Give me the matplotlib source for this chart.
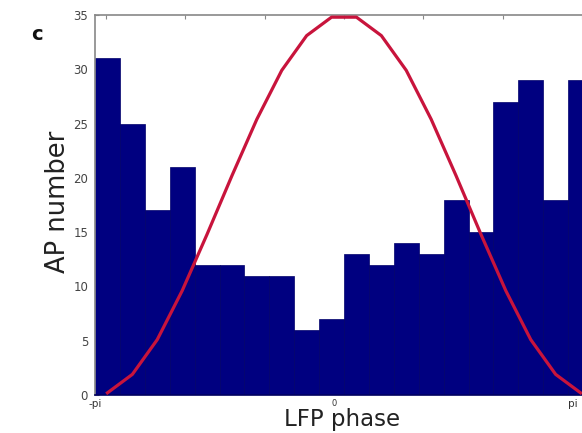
import numpy as np
import matplotlib
matplotlib.use("Agg")
import matplotlib.pyplot as plt

# --- data ---
n_bins = 20
counts = [31, 25, 17, 21, 12, 12, 11, 11, 6, 7, 13, 12, 14, 13, 18, 15, 27, 29, 18, 29]
curve = [0.2, 1.9, 5.1, 9.6, 14.8, 20.2, 25.4, 29.9, 33.1, 34.8,
         34.8, 33.1, 29.9, 25.4, 20.2, 14.8, 9.6, 5.1, 1.9, 0.2]
yticks = [0, 5, 10, 15, 20, 25, 30, 35]
top_ticks = [-3, -2, -1, 0, 1, 2, 3]
xtick_pos = [-np.pi, -0.13, 2.89]
xtick_labels = ["-pi", "0", "pi"]

edges = np.linspace(-np.pi, np.pi, n_bins + 1)
centers = (edges[:-1] + edges[1:]) / 2
width = edges[1] - edges[0]

fig = plt.figure(figsize=(5.82, 4.33), dpi=100)
ax = fig.add_axes([95/582, 38/433, 498/582, 380/433])

ax.bar(centers, counts, width=width, color="#000080", edgecolor="#00006a",
       linewidth=0.5, align="center", zorder=2)
ax.plot(centers, curve, color="#C8143C", lw=2.3, zorder=3, clip_on=False,
        solid_joinstyle="round")

ax.set_xlim(-np.pi, np.pi)
ax.set_ylim(0, 35)
ax.set_yticks(yticks)
ax.set_yticklabels([str(v) for v in yticks], fontsize=8.5, color="#444444")
ax.tick_params(axis="y", direction="in", length=3, color="#888888", pad=5)

ax.set_xticks(xtick_pos)
ax.set_xticklabels(xtick_labels, fontsize=7, color="#333333")
ax.tick_params(axis="x", length=0, pad=3)
for lab, fs in zip(ax.get_xticklabels(), [7.5, 6, 7.5]):
    lab.set_fontsize(fs)

sec = ax.secondary_xaxis("top")
sec.set_xticks(top_ticks)
sec.set_xticklabels([""] * len(top_ticks))
sec.tick_params(direction="in", length=3, color="#888888")
sec.spines["top"].set_visible(False)

for s in ax.spines.values():
    s.set_color("#888888")
    s.set_linewidth(1.2)
ax.spines["bottom"].set_color("#000060")

fig.text(65/582, 1 - 202/433, "AP number", rotation=90, fontsize=18.5,
         rotation_mode="anchor", ha="center", va="baseline", color="#222222")
fig.text(342/582, 1 - 426/433, "LFP phase", fontsize=16.5,
         ha="center", va="baseline", color="#222222")
fig.text(37/582, 1 - 35/433, "c", fontsize=14, fontweight="bold",
         ha="center", va="center", color="#111111")

fig.savefig("out.png", dpi=100)
